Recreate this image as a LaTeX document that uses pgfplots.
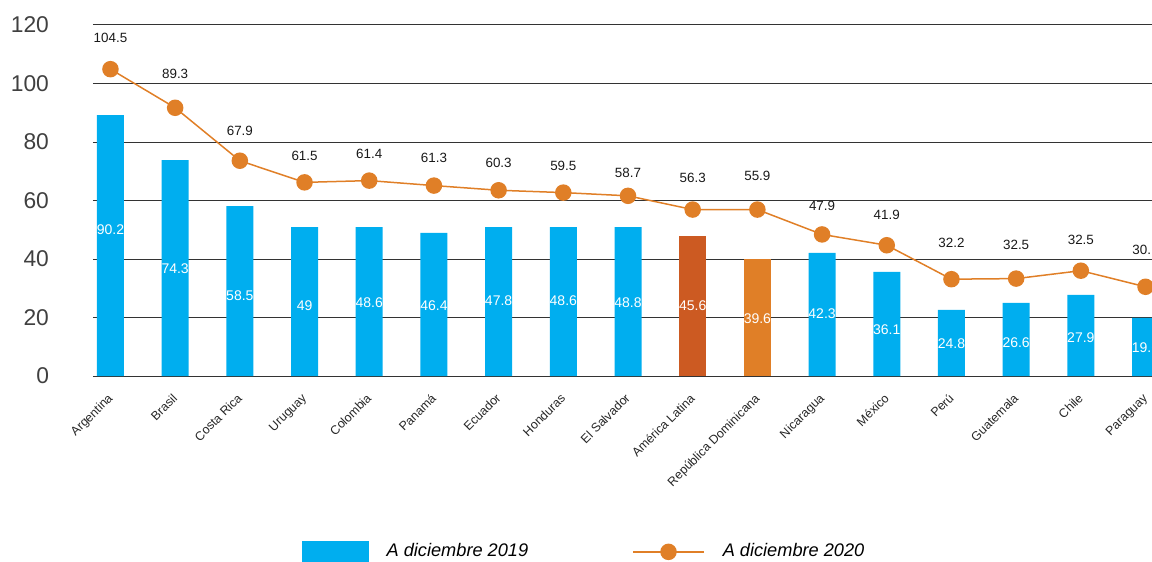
\documentclass[border=0pt]{standalone}
\usepackage{pgfplots}
\pgfplotsset{compat=1.18}
\usepackage{pgfplotstable}
\usepackage{fontspec}
\setmainfont{Liberation Sans}

\definecolor{cblue}{HTML}{00AEEF}
\definecolor{corange}{HTML}{E07F27}
\definecolor{cdark}{HTML}{CC5A22}

\pgfplotstableread[col sep=comma]{
x,bar,bl,bly,line,ll,lly
0,89.2,90.2,49.9,104.9,104.5,115.6
1,73.8,74.3,36.8,91.7,89.3,103.2
2,58.1,58.5,27.4,73.6,67.9,83.8
3,50.9,49,23.9,66.2,61.5,75.2
4,50.9,48.6,24.9,66.8,61.4,76.0
5,48.9,46.4,23.9,65.1,61.3,74.5
6,50.9,47.8,25.6,63.5,60.3,72.7
7,50.9,48.6,25.6,62.7,59.5,71.8
8,50.9,48.8,24.9,61.6,58.7,69.4
9,47.9,45.6,23.9,56.9,56.3,67.7
10,40.1,39.6,19.7,56.9,55.9,68.3
11,42.1,42.3,21.4,48.4,47.9,58.1
12,35.6,36.1,16.0,44.7,41.9,55.0
13,22.6,24.8,10.9,33.1,32.2,45.5
14,25.0,26.6,11.5,33.3,32.5,44.8
15,27.7,27.9,13.2,36.0,32.5,46.5
16,19.9,19.6,9.8,30.5,30.1,43.1
}\data

\begin{document}
\begin{tikzpicture}
\begin{axis}[
  scale only axis, width=529.5pt, height=175.5pt,
  xmin=-0.27, xmax=16.1, ymin=0, ymax=120,
  ytick={0,20,...,120},
  xtick={0,...,16},
  xticklabels={Argentina,Brasil,Costa Rica,Uruguay,Colombia,Panamá,Ecuador,Honduras,El Salvador,América Latina,República Dominicana,Nicaragua,México,Perú,Guatemala,Chile,Paraguay},
  major tick length=0pt,
  axis line style={draw=none},
  ymajorgrids,
  major grid style={draw=black!80, line width=0.5pt},
  /pgf/number format/assume math mode=true,
  yticklabel style={font=\fontsize{11.4}{12}\selectfont, text=black!75, xshift=-18.5pt},
  xticklabel style={rotate=45, anchor=north east, font=\fontsize{6.2}{7}\selectfont, text=black!85, inner sep=1pt, xshift=-6pt, yshift=-3.5pt},
  legend columns=2,
  legend style={at={(0.4646,-0.501)}, anchor=center, draw=none, fill=none,
    font=\itshape\fontsize{9.1}{11}\selectfont,
    /tikz/every odd column/.append style={column sep=7pt},
    /tikz/every even column/.append style={column sep=50pt}},
  clip=true,
]
\addplot[ybar, bar width=13.5pt, bar shift=0pt, fill=cblue, draw=none,
  legend image code/.code={\fill[cblue] (0pt,-5.5pt) rectangle (33.5pt,5.5pt);}]
  coordinates {(0,89.2) (1,73.8) (2,58.1) (3,50.9) (4,50.9) (5,48.9) (6,50.9) (7,50.9) (8,50.9) (11,42.1) (12,35.6) (13,22.6) (14,25.0) (15,27.7) (16,19.9)};
\addlegendentry{A diciembre 2019}
\addplot[ybar, bar width=13.5pt, bar shift=0pt, fill=cdark, draw=none, forget plot]
  coordinates {(9,47.9)};
\addplot[ybar, bar width=13.5pt, bar shift=0pt, fill=corange, draw=none, forget plot]
  coordinates {(10,40.1)};
\addplot[color=corange, line width=0.75pt, mark=*, mark size=3.75pt,
  mark options={fill=corange, draw=corange},
  legend image code/.code={\draw[corange, line width=0.75pt] (0pt,0pt) -- (35.5pt,0pt); \fill[corange] (17.75pt,0pt) circle (3.75pt);}]
  table[x=x, y=line] {\data};
\addlegendentry{A diciembre 2020}
% bar value labels
\addplot[draw=none, mark=none, forget plot, nodes near coords, point meta=explicit symbolic,
  every node near coord/.append style={anchor=center, text=white, font=\fontsize{7}{8}\selectfont}]
  table[x=x, y=bly, meta=bl] {\data};
% line value labels
\addplot[draw=none, mark=none, forget plot, nodes near coords, point meta=explicit symbolic,
  every node near coord/.append style={anchor=center, text=black!90, font=\fontsize{6.7}{8}\selectfont}]
  table[x=x, y=lly, meta=ll] {\data};
\end{axis}
\pgfresetboundingbox
\useasboundingbox (-46.5pt,-93pt) rectangle (529.5pt,188pt);
\end{tikzpicture}
\end{document}
